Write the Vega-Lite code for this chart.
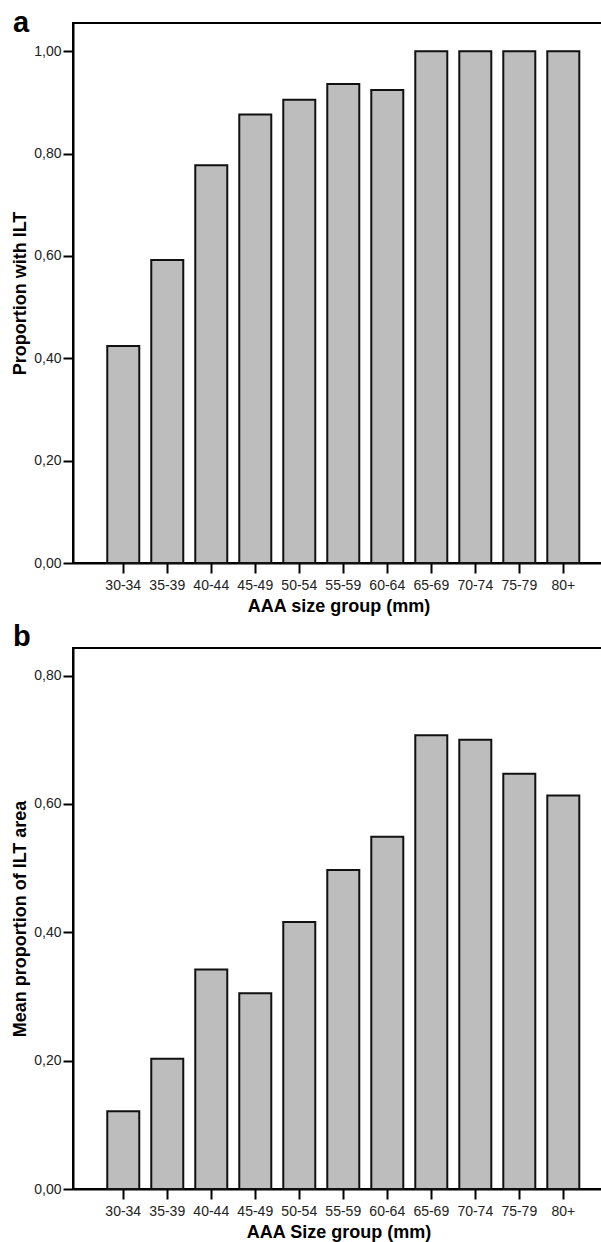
{
  "$schema": "https://vega.github.io/schema/vega-lite/v6.json",
  "padding": {"left": 10, "top": 8, "right": 0, "bottom": 0},
  "background": "white",
  "config": {
    "view": {"stroke": "black", "strokeWidth": 2},
    "font": "Liberation Sans",
    "axis": {"domainColor": "black", "domainWidth": 2, "tickColor": "black", "tickWidth": 2, "tickSize": 10, "labelFont": "Liberation Sans", "labelFontSize": 14, "labelColor": "#222", "titleFont": "Liberation Sans", "titleFontSize": 18, "titleFontWeight": "bold", "titleColor": "black", "grid": false, "labelPadding": 2},
    "axisX": {"labelPadding": 5, "titlePadding": 5},
    "title": {"fontSize": 29, "fontWeight": "bold", "anchor": "start", "frame": "group", "color": "black", "font": "Liberation Sans"},
    "concat": {"spacing": 6}
  },
  "datasets": {
    "a": [
      {"group": "30-34", "value": 0.424},
      {"group": "35-39", "value": 0.592},
      {"group": "40-44", "value": 0.777},
      {"group": "45-49", "value": 0.876},
      {"group": "50-54", "value": 0.905},
      {"group": "55-59", "value": 0.936},
      {"group": "60-64", "value": 0.924},
      {"group": "65-69", "value": 1.0},
      {"group": "70-74", "value": 1.0},
      {"group": "75-79", "value": 1.0},
      {"group": "80+", "value": 1.0}
    ],
    "b": [
      {"group": "30-34", "value": 0.121},
      {"group": "35-39", "value": 0.203},
      {"group": "40-44", "value": 0.342},
      {"group": "45-49", "value": 0.305},
      {"group": "50-54", "value": 0.416},
      {"group": "55-59", "value": 0.497},
      {"group": "60-64", "value": 0.549},
      {"group": "65-69", "value": 0.707},
      {"group": "70-74", "value": 0.700},
      {"group": "75-79", "value": 0.647},
      {"group": "80+", "value": 0.613}
    ]
  },
  "vconcat": [
    {
      "width": 531, "height": 540,
      "title": {"text": "a", "dx": -60, "dy": 19},
      "data": {"name": "a"},
      "mark": {"type": "bar", "fill": "#bdbdbd", "stroke": "#111", "strokeWidth": 2},
      "encoding": {
        "x": {"field": "group", "type": "ordinal", "sort": null,
              "scale": {"paddingInner": 0.2727, "paddingOuter": 0.67, "align": 0.581},
              "axis": {"title": "AAA size group (mm)", "labelAngle": 0}},
        "y": {"field": "value", "type": "quantitative",
              "scale": {"domain": [0, 1.055], "nice": false, "zero": true},
              "axis": {"values": [0, 0.2, 0.4, 0.6, 0.8, 1.0], "labelExpr": "replace(format(datum.value, '.2f'), '.', ',')", "title": "Proportion with ILT"}}
      }
    },
    {
      "width": 531, "height": 541,
      "title": {"text": "b", "dx": -60, "dy": 8},
      "data": {"name": "b"},
      "mark": {"type": "bar", "fill": "#bdbdbd", "stroke": "#111", "strokeWidth": 2},
      "encoding": {
        "x": {"field": "group", "type": "ordinal", "sort": null,
              "scale": {"paddingInner": 0.2727, "paddingOuter": 0.67, "align": 0.581},
              "axis": {"title": "AAA Size group (mm)", "labelAngle": 0}},
        "y": {"field": "value", "type": "quantitative",
              "scale": {"domain": [0, 0.843], "nice": false, "zero": true},
              "axis": {"values": [0, 0.2, 0.4, 0.6, 0.8], "labelExpr": "replace(format(datum.value, '.2f'), '.', ',')", "title": "Mean proportion of ILT area"}}
      }
    }
  ]
}
